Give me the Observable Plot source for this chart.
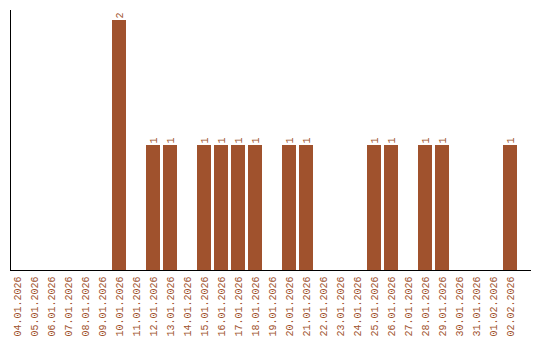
<!DOCTYPE html>
<html>
<head>
<meta charset="utf-8">
<script src="https://cdn.jsdelivr.net/npm/d3@7"></script>
<script src="https://cdn.jsdelivr.net/npm/@observablehq/plot@0.6"></script>
<style>
  html, body { margin: 0; padding: 0; background: #fff; }
</style>
</head>
<body>
<div id="chart"></div>
<script>
const dates = [
  "04.01.2026","05.01.2026","06.01.2026","07.01.2026","08.01.2026","09.01.2026",
  "10.01.2026","11.01.2026","12.01.2026","13.01.2026","14.01.2026","15.01.2026",
  "16.01.2026","17.01.2026","18.01.2026","19.01.2026","20.01.2026","21.01.2026",
  "22.01.2026","23.01.2026","24.01.2026","25.01.2026","26.01.2026","27.01.2026",
  "28.01.2026","29.01.2026","30.01.2026","31.01.2026","01.02.2026","02.02.2026"
];
const counts = [
  0,0,0,0,0,0,
  2,0,1,1,0,1,
  1,1,1,0,1,1,
  0,0,0,1,1,0,
  1,1,0,0,0,1
];

const data = dates.map((d, i) => ({date: d, count: counts[i]}));
const nonZero = data.filter(d => d.count > 0);
const color = "#a0522d";

const chart = Plot.plot({
  width: 540,
  height: 340,
  marginTop: 10,
  marginLeft: 10,
  marginRight: 10,
  marginBottom: 70,
  style: {fontFamily: "'Liberation Mono', monospace", fontSize: "10px", background: "#fff"},
  x: {domain: dates, paddingInner: 0.1765, paddingOuter: 0.382, align: 0, label: null},
  y: {domain: [0, 2.08], label: null, axis: null},
  marks: [
    Plot.barY(data, {x: "date", y: "count", fill: color}),
    Plot.text(nonZero, {x: "date", y: "count", text: d => String(d.count), rotate: -90,
      textAnchor: "start", dy: -2, fill: color, fontSize: 10}),
    Plot.axisX({tickRotate: -90, tickSize: 0, tickPadding: 6, color: color, label: null}),
    Plot.frame({anchor: "left", stroke: "#000"}),
    Plot.frame({anchor: "bottom", stroke: "#000"})
  ]
});
document.getElementById("chart").appendChild(chart);
</script>
</body>
</html>
